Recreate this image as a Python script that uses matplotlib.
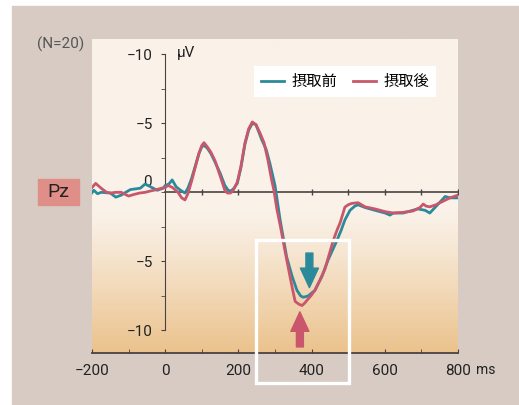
import numpy as np
import matplotlib.pyplot as plt
from matplotlib.patches import Rectangle, FancyArrowPatch
from matplotlib.transforms import ScaledTranslation

plt.rcParams['font.family'] = ['Roboto', 'Noto Sans CJK JP', 'DejaVu Sans']

# ERP waveform at Pz (uV, negative plotted upward)
ms_after = [-205, -190, -175, -160, -150, -135, -120, -100, -85, -70, -55, -40, -28, -10, 0, 8, 20,
            35, 45, 54, 62, 72, 82, 92, 100, 106, 115, 125, 136, 150, 163, 170, 178, 185, 197,
            207, 218, 228, 238, 248, 259, 270, 281, 290, 297, 305, 315, 327, 338, 347, 355, 365,
            374, 382, 388, 398, 409, 422, 436, 448, 459, 470, 478, 491, 500, 510, 527, 546, 573,
            601, 623, 650, 677, 696, 705, 713, 723, 740, 751, 778, 800]
uv_after = [-0.2, -0.65, -0.3, 0.0, 0.05, 0.0, 0.0, 0.27, 0.15, 0.05, 0.0, -0.1, -0.17, -0.3, -0.35, -0.5, -0.35,
            0.0, 0.4, 0.55, 0.1, -0.8, -1.8, -2.8, -3.4, -3.6, -3.3, -2.9, -2.3, -1.2, -0.15, 0.05, 0.05, -0.1, -0.75,
            -1.9, -3.6, -4.6, -5.1, -4.9, -4.3, -3.6, -2.3, -1.0, -0.15, 1.2, 2.5, 4.2, 5.7, 6.9, 7.9, 8.1,
            8.2, 8.0, 7.8, 7.5, 7.1, 6.4, 5.6, 4.5, 3.5, 2.7, 2.2, 1.07, 0.9, 0.8, 0.75, 1.05, 1.2,
            1.4, 1.5, 1.45, 1.35, 1.1, 0.85, 1.0, 1.05, 0.9, 0.75, 0.4, 0.2]

ms_before = [-205, -195, -185, -175, -150, -135, -120, -108, -95, -68, -55, -40, -22, -5, 0, 10, 19,
             30, 42, 54, 62, 72, 82, 92, 100, 106, 115, 125, 136, 150, 163, 172, 180, 188, 197,
             207, 218, 228, 238, 248, 264, 276, 286, 300, 314, 332, 347, 360, 370, 377, 385, 391,
             400, 409, 428, 445, 469, 480, 491, 505, 518, 527, 546, 573, 601, 614, 623, 650, 690,
             710, 723, 737, 751, 765, 778, 800]
uv_before = [0.2, -0.15, 0.1, 0.0, 0.05, 0.35, 0.2, 0.0, -0.2, -0.3, -0.6, -0.4, -0.15, -0.3, -0.5, -0.6, -0.9,
             -0.4, -0.15, 0.05, -0.3, -1.0, -1.9, -2.8, -3.3, -3.4, -3.2, -2.8, -2.2, -1.4, -0.5, -0.15, -0.1, -0.3, -0.65,
             -1.8, -3.5, -4.5, -5.0, -4.9, -3.8, -3.1, -2.1, -0.5, 2.0, 4.7, 6.1, 7.1, 7.5, 7.6, 7.55, 7.5,
             7.3, 7.1, 6.1, 4.9, 3.5, 2.8, 2.0, 1.3, 1.0, 0.9, 1.1, 1.3, 1.5, 1.65, 1.5, 1.5, 1.2,
             1.3, 1.5, 1.1, 0.7, 0.3, 0.4, 0.4]

labels = ['摂取前', '摂取後']
colors = ['#2b8a9a', '#c9566b']

xticks = [-200, 0, 200, 400, 600, 800]
xlabels = ['−200', '0', '200', '400', '600', '800']
yticks = [-10, -5, 5, 10]
ylabels = ['−10', '−5', '−5', '−10']

W, H = 519, 405
fig = plt.figure(figsize=(W / 100, H / 100), dpi=100)
fig.patches.append(Rectangle((12 / W, 0), 1 - 12 / W, 1 - 6 / H, transform=fig.transFigure,
                             color='#d7cbc3', zorder=-2))

ax = fig.add_axes([92 / W, 52 / H, 366 / W, 314 / H])
ax.set_zorder(2)
ax.patch.set_alpha(0)

# background gradient: cream on top, orange at the bottom
t = np.linspace(0, 1, 300)
top = np.array([250, 242, 233]) / 255
bot = np.array([235, 194, 140]) / 255
k = np.clip((0.45 - t) / 0.45, 0, 1) ** 1.1
grad = top[None, :] * (1 - k[:, None]) + bot[None, :] * k[:, None]
ax.imshow(grad[:, None, :], extent=[0, 1, 0, 1], transform=ax.transAxes, origin='lower',
          aspect='auto', zorder=0)
ax.set_xlim(-200, 800)
ax.set_ylim(11.64, -11.11)

axcol = '#4a4242'
for s in ['top', 'right']:
    ax.spines[s].set_visible(False)
ax.spines['left'].set_position(('data', 0))
ax.spines['left'].set_bounds(-10, 10)
ax.spines['left'].set_color(axcol)
ax.spines['bottom'].set_color(axcol)
ax.spines['bottom'].set_linewidth(1.3)

ax.set_xticks(xticks, xlabels)
ax.set_xticks(range(-100, 800, 200), minor=True)
ax.tick_params(axis='x', which='both', direction='in', length=3, color=axcol, pad=8,
               labelsize=11, labelcolor='#222222')
ax.set_yticks(yticks, ylabels)
ax.set_yticks([-7.5, -2.5, 0, 2.5, 7.5], minor=True)
ax.tick_params(axis='y', which='both', direction='out', length=3, color=axcol, pad=6,
               labelsize=11, labelcolor='#222222')
ax.text(0, 0, '0', transform=ax.transData + ScaledTranslation(-13 / 100, 10 / 100, fig.dpi_scale_trans),
        ha='right', va='center', fontsize=11, color='#222222')

# zero line with small ticks
ax.plot([0, 800], [0, 0], color=axcol, lw=1.2, zorder=2)
ax.plot(range(100, 801, 100), [0] * 8, '|', ms=4, mew=1, color=axcol, zorder=2)

ax.plot(ms_before, uv_before, color=colors[0], lw=2.0, label=labels[0], zorder=3)
ax.plot(ms_after, uv_after, color=colors[1], lw=2.0, label=labels[1], zorder=4)

leg = ax.legend(loc='upper right', bbox_to_anchor=(0.94, 0.914), ncol=2, frameon=True,
                fancybox=False, framealpha=1, edgecolor='none', facecolor='white',
                prop={'family': ['Noto Sans CJK JP'], 'size': 11}, handlelength=1.5,
                handletextpad=0.5, columnspacing=1.0, borderpad=0.45, borderaxespad=0)

# highlight box and arrows
ax.add_patch(Rectangle((248, 3.46), 254, 10.35, fill=False, ec='white', lw=2.4, clip_on=False, zorder=5))
ax.add_patch(FancyArrowPatch((394, 4.4), (394, 6.9), arrowstyle='simple,head_width=13,head_length=14,tail_width=5',
                             mutation_scale=1, color=colors[0], shrinkA=0, shrinkB=0, zorder=6))
ax.add_patch(FancyArrowPatch((368, 11.2), (368, 8.66), arrowstyle='simple,head_width=13,head_length=14,tail_width=5',
                             mutation_scale=1, color=colors[1], shrinkA=0, shrinkB=0, zorder=6,
                             clip_on=False))

# texts
fig.text(186 / W, 1 - 53 / H, 'μV', ha='center', va='center', fontsize=11, color='#222222')
fig.text(486 / W, 1 - 370 / H, 'ms', ha='center', va='center', fontsize=10, color='#222222')
fig.text(61 / W, 1 - 44 / H, '(N=20)', ha='center', va='center', fontsize=11, color='#555555')
fig.patches.append(Rectangle((38 / W, 1 - 205 / H), 41 / W, 26 / H, transform=fig.transFigure,
                             color='#df8f87', zorder=1))
fig.text(58.5 / W, 1 - 192 / H, 'Pz', ha='center', va='center', fontsize=14, color='#222222')

fig.savefig('out.png', dpi=100)
